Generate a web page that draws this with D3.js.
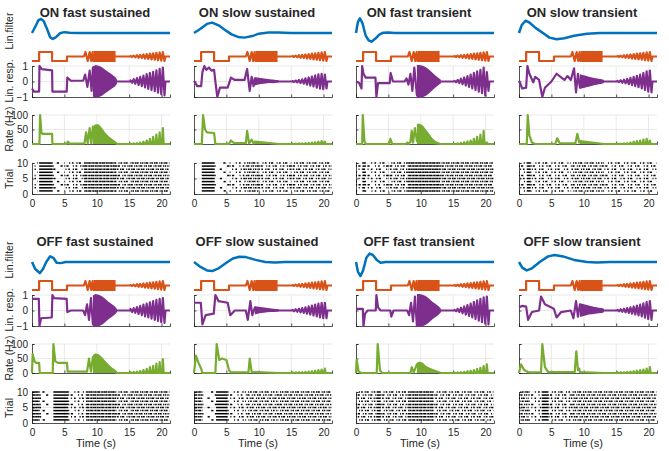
<!DOCTYPE html>
<html>
<head>
<meta charset="utf-8">
<script src="https://cdnjs.cloudflare.com/ajax/libs/d3/7.8.5/d3.min.js"></script>
<style>
  body { margin: 0; background: #fff; }
  text { font-family: "Liberation Sans", Arial, sans-serif; fill: #262626; }
</style>
</head>
<body>
<div id="chart"></div>
<script>
// panel titles, ON row then OFF row
var panelNames = ["ON fast sustained", "ON slow sustained", "ON fast transient", "ON slow transient",
  "OFF fast sustained", "OFF slow sustained", "OFF fast transient", "OFF slow transient"];

var xTicks = [0, 5, 10, 15, 20];
var linTicks = [-1, 0, 1];
var rateTicks = [0, 50, 100];
var trialTicks = [0, 5, 10];

// stimulus (same for all cells): step part, first chirp cycles, amplitude chirp
var stimStep = [[0, 0], [1.1, 0], [1.1, 1], [3.1, 1], [3.1, 0], [5.4, 0], [5.4, 0.5], [8.0, 0.5],
  [8.25, 1], [8.6, 0], [8.9, 1], [9.15, 0], [9.35, 1], [9.5, 0]];
var stimBand = [9.5, 12.9];
var stimAmp = [0.05, 0.09, 0.14, 0.18, 0.23, 0.27, 0.32, 0.36, 0.41, 0.45, 0.5];

// shared times: frequency chirp envelope samples, amplitude chirp peaks/troughs
var freqEnvTimes = [9.4, 9.8, 10.3, 10.8, 11.3, 11.8, 12.3, 12.8, 13.1];
var ampZigTimes = [15.2, 15.45, 15.7, 15.95, 16.2, 16.45, 16.7, 16.95, 17.2, 17.45, 17.7,
  17.95, 18.2, 18.45, 18.7, 18.95, 19.2, 19.45, 19.7, 19.95, 20.2, 20.45];

// linear filters (t, value)
var filt0 = [[0,0],[0.5,0.45],[1,0.92],[1.4,1],[1.8,0.85],[2.4,0.2],[2.8,-0.3],[3.2,-0.43],[3.7,-0.3],[4.3,-0.02],[5,0.06],[5.8,0.02],[7,0],[21.3,0]];
var filt1 = [[0,0],[1,0.3],[2,0.65],[2.8,0.74],[3.8,0.55],[5,0.15],[5.8,-0.1],[6.8,-0.28],[7.8,-0.33],[9,-0.22],[10,-0.05],[11.5,0.04],[13,0.03],[15,0],[21.3,0]];
var filt2 = [[0,0],[0.3,0.8],[0.6,1.05],[1,0.7],[1.5,-0.2],[2,-0.55],[2.4,-0.62],[3,-0.4],[3.6,-0.12],[4.2,0.02],[5,0.04],[6,0],[21.3,0]];
var filt3 = [[0,0],[0.4,0.55],[1,0.88],[1.6,0.75],[2.6,0.35],[3.7,0],[4.7,-0.33],[5.8,-0.45],[7,-0.38],[8.5,-0.2],[10.5,-0.06],[12.5,0],[21.3,0]];
var filt4 = [[0,0],[0.5,-0.5],[1.2,-0.8],[1.7,-0.5],[2.2,0],[2.8,0.41],[3.3,0.3],[3.8,-0.05],[4.4,-0.08],[5.2,0],[21.3,0]];
var filt5 = [[0,0],[1,-0.35],[2,-0.6],[2.8,-0.65],[3.8,-0.45],[5,-0.05],[6,0.25],[7,0.38],[8,0.35],[9.5,0.15],[11,0],[12.5,-0.03],[14,0],[21.3,0]];
var filt6 = [[0,0],[0.3,-0.7],[0.7,-1.0],[1.1,-0.6],[1.6,0.3],[2.1,0.6],[2.6,0.5],[3.2,0.15],[3.8,-0.05],[4.6,0],[21.3,0]];
var filt7 = [[0,0],[0.5,-0.4],[1.2,-0.6],[2,-0.45],[3.2,0],[4.5,0.4],[5.5,0.5],[6.8,0.4],[8.5,0.15],[10.5,0],[12,-0.03],[14,0],[21.3,0]];

// linear response: step part (t, value), freq chirp envelope, amp chirp amplitudes
var linStep0 = [[0,-0.45],[0.3,-0.65],[1.1,-0.65],[1.15,1.0],[1.5,0.8],[3.1,0.72],[3.15,-0.65],[5.35,-0.65],[5.45,0.25],[6,0.05],[7.9,0.05],[8.2,0.45],[8.55,-0.35],[8.9,0.7],[9.2,-0.6],[9.4,0.9]];
var linStep1 = [[0,0.05],[0.5,-0.3],[1.1,-0.3],[1.3,0.6],[1.6,1.0],[1.9,0.75],[2.3,0.9],[2.7,0.7],[3.1,0.75],[3.3,0],[3.6,-1.0],[4.0,-0.4],[5.2,-0.4],[5.7,0.25],[6.3,0.1],[7.8,0.1],[8.2,0.8],[8.6,-0.6],[8.9,0.3],[9.2,-0.3],[9.4,0.2]];
var linStep2 = [[0,0],[0.5,-0.1],[0.85,-0.45],[0.95,1.0],[1.15,0.5],[1.5,0.25],[3.0,0.25],[3.15,-1.0],[3.4,-0.1],[5.2,-0.1],[5.35,0.55],[5.7,0],[7.5,0],[7.8,0.2],[8.1,-0.2],[8.4,0.5],[8.7,-0.6],[9.0,0.9],[9.4,-0.9]];
var linStep3 = [[0,0.05],[0.5,-0.45],[1.1,-0.4],[1.3,1.0],[1.6,0.5],[2.2,-0.05],[2.5,0.3],[3.1,0.1],[3.6,-1.0],[4.0,-0.4],[5.0,0],[5.8,0.5],[7,0.1],[7.5,0.35],[8.0,0.1],[8.5,0.85],[8.8,-0.7],[9.1,0.5],[9.4,-0.4]];
var linStep4 = [[0,0.75],[1.05,0.75],[1.15,-1.0],[1.4,-0.5],[3.05,-0.45],[3.15,1.0],[3.4,0.8],[5.35,0.75],[5.45,-0.1],[6,0],[7.9,0],[8.2,-0.3],[8.5,0.4],[8.8,-0.6],[9.1,0.8],[9.4,-0.9]];
var linStep5 = [[0,0.5],[1.05,0.5],[1.3,-0.9],[1.8,-0.3],[3.05,-0.2],[3.3,1.0],[3.8,0.6],[5.2,0.5],[5.6,-0.3],[6.3,0],[8.0,0],[8.3,-0.6],[8.7,0.6],[9.0,-0.3],[9.4,0.2]];
var linStep6 = [[0,0.1],[1.05,0.1],[1.15,-1.0],[1.4,-0.2],[1.8,0],[3.05,0],[3.15,1.0],[3.4,0.2],[3.8,0],[5.3,0],[5.45,-0.4],[5.8,0],[7.9,0],[8.2,-0.3],[8.5,0.5],[8.8,-0.7],[9.1,0.9],[9.4,-1.0]];
var linStep7 = [[0,0.2],[0.5,0.3],[1.1,0.25],[1.4,-0.6],[2,-0.1],[3.1,0],[3.4,0.9],[4,0.4],[5,0.2],[5.4,0.1],[5.8,-0.45],[6.5,-0.1],[8,0],[8.4,-0.5],[8.8,0.6],[9.1,-0.4],[9.4,0.4]];

var linFreq0 = [0.9, 1.0, 0.95, 0.85, 0.7, 0.55, 0.4, 0.25, 0.1];
var linFreq1 = [0.2, 0.15, 0.1, 0.08, 0.05, 0.03, 0.05, 0.02, 0];
var linFreq2 = [1.0, 1.0, 0.95, 0.85, 0.7, 0.5, 0.3, 0.15, 0.05];
var linFreq3 = [0.4, 0.35, 0.3, 0.25, 0.2, 0.15, 0.12, 0.08, 0.03];
var linFreq4 = [0.9, 1.0, 0.95, 0.85, 0.7, 0.5, 0.35, 0.2, 0.05];
var linFreq5 = [0.2, 0.15, 0.1, 0.08, 0.05, 0.04, 0.03, 0.02, 0];
var linFreq6 = [1.0, 1.0, 0.95, 0.85, 0.7, 0.5, 0.35, 0.2, 0.05];
var linFreq7 = [0.35, 0.3, 0.25, 0.2, 0.18, 0.15, 0.12, 0.1, 0.05];

var linAmp0 = [0.08, 0.15, 0.22, 0.3, 0.38, 0.47, 0.55, 0.63, 0.72, 0.82, 0.9];
var linAmp1 = [0.03, 0.06, 0.1, 0.14, 0.2, 0.26, 0.32, 0.4, 0.46, 0.5, 0.45];
var linAmp2 = [0.05, 0.1, 0.18, 0.26, 0.35, 0.45, 0.55, 0.65, 0.75, 0.9, 0.6];
var linAmp3 = [0.04, 0.08, 0.12, 0.17, 0.23, 0.3, 0.37, 0.45, 0.55, 0.65, 0.7];
var linAmp4 = [0.1, 0.15, 0.22, 0.3, 0.38, 0.45, 0.52, 0.6, 0.68, 0.75, 0.8];
var linAmp5 = [0.05, 0.08, 0.12, 0.16, 0.2, 0.26, 0.32, 0.38, 0.44, 0.5, 0.5];
var linAmp6 = [0.05, 0.1, 0.18, 0.26, 0.35, 0.45, 0.55, 0.65, 0.75, 0.85, 0.9];
var linAmp7 = [0.05, 0.08, 0.12, 0.16, 0.2, 0.26, 0.32, 0.38, 0.46, 0.55, 0.6];

// firing rate (Hz): step part, freq chirp envelope, amp chirp peaks
var rateStep0 = [[0,0],[1.15,0],[1.25,100],[1.45,40],[1.6,35],[3.1,35],[3.15,0],[5.35,0],[5.55,8],[5.8,1],[8.1,2],[8.35,40],[8.6,2],[8.9,55],[9.15,2],[9.4,60]];
var rateStep1 = [[0,0],[1.2,0],[1.4,100],[1.7,50],[2,40],[3.1,38],[3.3,0],[5.4,0],[5.7,12],[6.2,3],[8.0,3],[8.2,45],[8.5,2],[8.9,15],[9.2,2],[9.4,8]];
var rateStep2 = [[0,0],[0.95,0],[1.05,100],[1.3,10],[1.5,0],[5.1,0],[5.3,18],[5.6,0],[7.7,0],[7.9,5],[8.1,0],[8.4,8],[8.6,45],[8.8,5],[9.1,55],[9.4,10]];
var rateStep3 = [[0,0],[1.2,0],[1.35,100],[1.6,30],[2,5],[2.5,0],[5.6,0],[5.9,20],[6.3,2],[8.7,2],[9.0,35],[9.3,5],[9.4,10]];
var rateStep4 = [[0,0],[0.1,65],[0.4,40],[0.6,35],[1.1,35],[1.2,0],[3.2,0],[3.3,100],[3.6,40],[4,35],[5.4,35],[5.5,5],[8.5,5],[8.8,50],[9.1,5],[9.4,55]];
var rateStep5 = [[0,0],[0.3,60],[0.7,35],[1.1,15],[1.3,0],[3.3,0],[3.5,100],[3.9,45],[4.3,50],[5.0,45],[5.4,10],[5.7,2],[8.4,2],[8.6,50],[8.9,3],[9.4,3]];
var rateStep6 = [[0,0],[0.1,45],[0.4,5],[0.8,0],[3.2,0],[3.35,100],[3.7,10],[4,0],[8.4,0],[8.6,20],[8.9,2],[9.4,30]];
var rateStep7 = [[0,0],[0.3,30],[0.8,10],[1.5,2],[3.4,2],[3.6,100],[4.0,20],[4.5,3],[8.6,3],[8.85,75],[9.1,10],[9.3,15],[9.4,3]];

var rateFreq0 = [60, 68, 68, 55, 40, 28, 18, 10, 4];
var rateFreq1 = [8, 6, 5, 4, 3, 3, 3, 2, 2];
var rateFreq2 = [70, 70, 65, 50, 35, 20, 10, 5, 2];
var rateFreq3 = [15, 10, 8, 5, 4, 3, 2, 2, 1];
var rateFreq4 = [62, 68, 65, 55, 42, 30, 20, 12, 6];
var rateFreq5 = [5, 5, 4, 4, 3, 3, 3, 3, 2];
var rateFreq6 = [35, 40, 35, 25, 18, 10, 6, 3, 1];
var rateFreq7 = [3, 3, 3, 3, 3, 3, 3, 3, 3];

var rateAmp0 = [1, 2, 3, 5, 8, 12, 18, 25, 32, 40, 55];
var rateAmp1 = [1, 1, 2, 2, 3, 4, 5, 6, 8, 10, 8];
var rateAmp2 = [0, 2, 4, 6, 9, 12, 18, 25, 32, 45, 5];
var rateAmp3 = [0, 1, 2, 3, 5, 8, 10, 12, 15, 18, 12];
var rateAmp4 = [3, 4, 5, 7, 10, 14, 20, 25, 32, 38, 48];
var rateAmp5 = [2, 2, 3, 3, 4, 5, 6, 8, 10, 12, 15];
var rateAmp6 = [1, 2, 3, 4, 6, 8, 10, 14, 18, 24, 30];
var rateAmp7 = [2, 3, 3, 4, 5, 6, 8, 10, 12, 15, 20];

// raster: [t start, t end, spike density] for trials 1-10
var raster0 = [[0.4,0.9,0.1],[1.1,3.2,1],[3.2,5,0.08],[5,8,0.35],[8,13,0.8],[13,15,0.5],[15,21.2,0.6]];
var raster1 = [[1.2,3.2,0.95],[3.2,5.5,0.05],[5.5,8,0.3],[8,10,0.6],[10,15,0.4],[15,21.2,0.45]];
var raster2 = [[0,1,0.3],[1,1.4,1],[1.4,5,0.3],[5,8,0.45],[8,13,0.85],[13,21.2,0.6]];
var raster3 = [[0,1.2,0.35],[1.2,1.8,1],[1.8,8,0.35],[8,13,0.5],[13,21.2,0.35]];
var raster4 = [[0,1.2,0.9],[1.2,3.2,0.1],[3.3,5.6,1],[5.6,8,0.3],[8.3,13,0.8],[13,15,0.5],[15,21.2,0.6]];
var raster5 = [[0,1.3,0.8],[1.3,3.4,0.05],[3.4,5.2,1],[5.2,8,0.3],[8,13,0.5],[13,21.2,0.55]];
var raster6 = [[0,3.2,0.45],[3.2,3.8,1],[3.8,8,0.45],[8,12,0.8],[12,21.2,0.45]];
var raster7 = [[0,1.5,0.6],[1.5,3.5,0.3],[3.5,4.5,1],[4.5,8,0.4],[8,21.2,0.55]];

var filters = [filt0, filt1, filt2, filt3, filt4, filt5, filt6, filt7];
var linSteps = [linStep0, linStep1, linStep2, linStep3, linStep4, linStep5, linStep6, linStep7];
var linFreqs = [linFreq0, linFreq1, linFreq2, linFreq3, linFreq4, linFreq5, linFreq6, linFreq7];
var linAmps = [linAmp0, linAmp1, linAmp2, linAmp3, linAmp4, linAmp5, linAmp6, linAmp7];
var rateSteps = [rateStep0, rateStep1, rateStep2, rateStep3, rateStep4, rateStep5, rateStep6, rateStep7];
var rateFreqs = [rateFreq0, rateFreq1, rateFreq2, rateFreq3, rateFreq4, rateFreq5, rateFreq6, rateFreq7];
var rateAmps = [rateAmp0, rateAmp1, rateAmp2, rateAmp3, rateAmp4, rateAmp5, rateAmp6, rateAmp7];
var rasters = [raster0, raster1, raster2, raster3, raster4, raster5, raster6, raster7];

var colors = { filter: "#0072BD", stim: "#D95319", lin: "#7E2F8E", rate: "#77AC30" };

var svgWidth = 669;
var svgHeight = 451;
var colX = [32, 194, 356, 519];
var rowY = [0, 229];
var plotW = 138;

var svg = d3.select("#chart").append("svg")
  .attr("width", svgWidth)
  .attr("height", svgHeight);

var x = d3.scaleLinear().domain([0, 21.3]).range([0, plotW]);
var yF = d3.scaleLinear().domain([-1, 1]).range([47, 19]);
var yS = d3.scaleLinear().domain([0, 1]).range([61, 52]);
var yL = d3.scaleLinear().domain([-1, 1]).range([97, 66]);
var yR = d3.scaleLinear().domain([0, 100]).range([144, 115]);
var yT = d3.scaleLinear().domain([0, 10]).range([194, 163]);

function drawAxes(g, yScale, ticks, showLabels, showX) {
  // light grid
  g.append("g").selectAll("line.vg")
    .data([5, 10, 15, 20]).enter().append("line")
    .attr("x1", d => x(d)).attr("x2", d => x(d))
    .attr("y1", yScale.range()[1]).attr("y2", yScale.range()[0])
    .attr("stroke", "#e3e3e3").attr("stroke-width", 0.8);
  g.append("g").selectAll("line.hg")
    .data(ticks.slice(1)).enter().append("line")
    .attr("x1", 0).attr("x2", plotW)
    .attr("y1", d => yScale(d)).attr("y2", d => yScale(d))
    .attr("stroke", "#e3e3e3").attr("stroke-width", 0.8);

  var left = d3.axisLeft(yScale).tickValues(ticks).tickSize(-2.5).tickPadding(4)
    .tickFormat(showLabels ? d3.format("d") : "");
  var ly = g.append("g").call(left);
  var bottom = d3.axisBottom(x).tickValues(xTicks).tickSize(-2.5).tickPadding(6)
    .tickFormat(showX ? d3.format("d") : "");
  var bx = g.append("g").attr("transform", `translate(0,${yScale.range()[0]})`).call(bottom);
  [ly, bx].forEach(function(a) {
    a.select(".domain").attr("stroke", "#262626").attr("stroke-width", 0.8);
    a.selectAll(".tick line").attr("stroke", "#262626").attr("stroke-width", 0.8);
    a.selectAll(".tick text").attr("fill", "#262626").style("font-size", "10px")
      .style("font-family", "'Liberation Sans', Arial, sans-serif");
  });
}

var line = d3.line().x(d => x(d[0]));

panelNames.forEach(function(name, i) {
  var col = i % 4, row = Math.floor(i / 4);
  var g = svg.append("g").attr("transform", `translate(${colX[col]}, ${rowY[row]})`);

  g.append("text")
    .attr("x", 63).attr("y", 17)
    .attr("text-anchor", "middle")
    .style("font-size", "13px").style("font-weight", "bold")
    .text(name);

  // axes for lin resp, rate, raster
  drawAxes(g, yL, linTicks, col === 0, false);
  drawAxes(g, yR, rateTicks, col === 0, false);
  drawAxes(g, yT, trialTicks, col === 0, true);

  // linear filter
  g.append("path")
    .attr("d", line.y(d => yF(d[1]))(filters[i]))
    .attr("fill", "none").attr("stroke", colors.filter).attr("stroke-width", 2.5)
    .attr("stroke-linejoin", "round");

  // stimulus
  var sPts = stimStep.concat([[stimBand[1], 0.5], [ampZigTimes[0], 0.5]]);
  ampZigTimes.forEach(function(t, k) {
    var a = stimAmp[Math.floor(k / 2)];
    sPts.push([t, k % 2 === 0 ? 0.5 + a : 0.5 - a]);
  });
  sPts.push([20.6, 0.5], [21.3, 0.5]);
  g.append("rect")
    .attr("x", x(stimBand[0])).attr("width", x(stimBand[1]) - x(stimBand[0]))
    .attr("y", yS(1) - 1).attr("height", yS(0) - yS(1) + 2)
    .attr("fill", colors.stim);
  g.append("path")
    .attr("d", line.y(d => yS(d[1]))(sPts))
    .attr("fill", "none").attr("stroke", colors.stim).attr("stroke-width", 2.2)
    .attr("stroke-linejoin", "round");

  // linear response
  var env = freqEnvTimes.map((t, k) => [t, linFreqs[i][k]]);
  g.append("path")
    .attr("d", d3.area().x(d => x(d[0])).y0(d => yL(-d[1]) + 1).y1(d => yL(d[1]) - 1)(env))
    .attr("fill", colors.lin);
  var lPts = linSteps[i].concat([[13.1, 0], [ampZigTimes[0], 0]]);
  ampZigTimes.forEach(function(t, k) {
    var a = linAmps[i][Math.floor(k / 2)];
    lPts.push([t, k % 2 === 0 ? a : -a]);
  });
  lPts.push([20.6, 0], [21.3, 0]);
  g.append("path")
    .attr("d", line.y(d => yL(d[1]))(lPts))
    .attr("fill", "none").attr("stroke", colors.lin).attr("stroke-width", 2.2)
    .attr("stroke-linejoin", "round");

  // firing rate
  var renv = [[freqEnvTimes[0], 0]].concat(freqEnvTimes.map((t, k) => [t, rateFreqs[i][k]]));
  g.append("path")
    .attr("d", d3.area().x(d => x(d[0])).y0(yR(0)).y1(d => yR(d[1]))(renv))
    .attr("fill", colors.rate);
  var rPts = rateSteps[i].concat([[13.1, 0]]);
  ampZigTimes.forEach(function(t, k) {
    if (k % 2 === 0) rPts.push([t - 0.12, 0], [t, rateAmps[i][k / 2]], [t + 0.12, 0]);
  });
  rPts.push([21.3, 0]);
  g.append("path")
    .attr("d", line.y(d => yR(d[1]))(rPts))
    .attr("fill", "none").attr("stroke", colors.rate).attr("stroke-width", 2.2)
    .attr("stroke-linejoin", "round");

  // raster: irregular dot pattern per trial row
  var rows = d3.range(1, 11);
  rasters[i].forEach(function(b) {
    var gap = 1.2 * (1 - b[2]) / b[2];
    g.append("g").selectAll("line")
      .data(rows).enter().append("line")
      .attr("x1", x(b[0])).attr("x2", x(b[1]))
      .attr("y1", d => yT(d)).attr("y2", d => yT(d))
      .attr("stroke", "#000").attr("stroke-width", 1.5)
      .attr("stroke-dasharray", b[2] >= 0.95 ? null :
        [1.2, gap * 0.5, 2.2, gap * 1.9, 1.0, gap * 0.8, 1.6, gap * 1.3].map(v => v.toFixed(2)).join(","))
      .attr("stroke-dashoffset", d => (d * 3.7) % 11);
  });

  // x label under the bottom row (group is already shifted by rowY)
  if (row === 1) {
    g.append("text")
      .attr("x", 64).attr("y", 218)
      .attr("text-anchor", "middle")
      .style("font-size", "11px")
      .text("Time (s)");
  }
});

// y labels, left column only
var yLabels = [["Lin.filter", 31], ["Lin. resp.", 81], ["Rate (Hz)", 129], ["Trial", 179]];
rowY.forEach(function(oy) {
  yLabels.forEach(function(l) {
    svg.append("text")
      .attr("transform", `translate(13, ${l[1] + oy}) rotate(-90)`)
      .attr("text-anchor", "middle")
      .style("font-size", "10.5px")
      .text(l[0]);
  });
});
</script>
</body>
</html>
